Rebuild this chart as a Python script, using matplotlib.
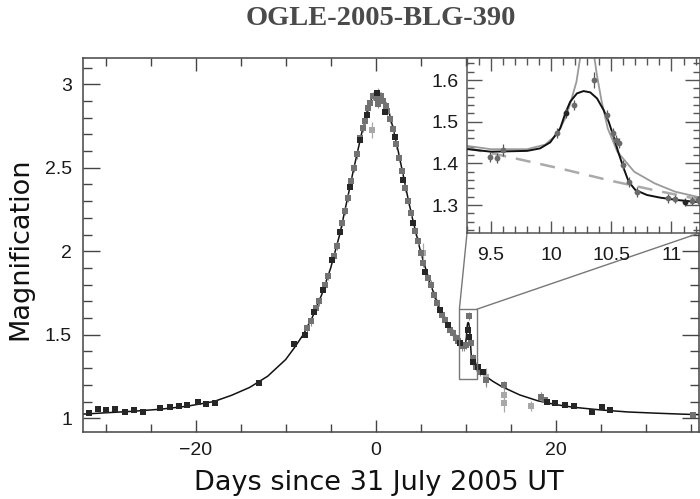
import matplotlib
matplotlib.use("Agg")
import matplotlib.pyplot as plt
from matplotlib.patches import Rectangle, ConnectionPatch
from matplotlib.ticker import FixedLocator, MultipleLocator, NullFormatter
import numpy as np

# ---------------- data ----------------
title = "OGLE-2005-BLG-390"
xlabel = "Days since 31 July 2005 UT"
ylabel = "Magnification"

# main model curve outside the zoomed window
model_t = [-32.5, -30, -27, -24, -21, -18, -16, -14, -12, -10, -9, -8, -7, -6, -5, -4,
           -3, -2.5, -2, -1.5, -1, -0.5, 0, 0.25, 0.5, 1, 1.5, 2, 2.5, 3, 3.5, 4, 5,
           6, 7, 8, 9, 11.6, 12, 13, 14, 16, 18, 20, 22, 25, 28, 31, 34, 35.92]
model_A = [1.025, 1.033, 1.042, 1.054, 1.072, 1.10, 1.138, 1.185, 1.252, 1.352, 1.425,
           1.505, 1.61, 1.74, 1.90, 2.10, 2.35, 2.48, 2.60, 2.72, 2.83, 2.91, 2.945,
           2.952, 2.945, 2.905, 2.83, 2.72, 2.60, 2.47, 2.34, 2.215, 1.995, 1.815,
           1.67, 1.555, 1.46, 1.28, 1.26, 1.222, 1.19, 1.14, 1.105, 1.082, 1.066,
           1.05, 1.038, 1.031, 1.025, 1.022]

# planetary model in the zoomed window
bump_t = [9.31, 9.5, 9.8, 9.908, 9.992, 10.075, 10.117, 10.158, 10.214, 10.269, 10.325,
          10.381, 10.436, 10.478, 10.519, 10.561, 10.603, 10.644, 10.70, 10.797, 10.908,
          11.05, 11.186, 11.3]
bump_A = [1.434, 1.428, 1.430, 1.436, 1.4505, 1.484, 1.520, 1.548, 1.568, 1.5736, 1.5704,
          1.556, 1.528, 1.500, 1.464, 1.424, 1.388, 1.356, 1.336, 1.324, 1.3176,
          1.312, 1.308, 1.305]

# alternative (grey) model, two branches leaving the top of the inset
alt_left_t = [9.3, 9.5, 9.8, 9.95, 10.05, 10.12, 10.16, 10.21, 10.24, 10.27]
alt_left_A = [1.442, 1.434, 1.434, 1.445, 1.47, 1.51, 1.545, 1.596, 1.652, 1.72]
alt_right_t = [10.35, 10.36, 10.38, 10.42, 10.47, 10.55, 10.69, 10.86, 11.03, 11.24]
alt_right_A = [1.72, 1.652, 1.612, 1.548, 1.484, 1.428, 1.38, 1.352, 1.332, 1.318]

# single-lens (no planet) model, dashed
single_t = [9.3, 9.7, 10.1, 10.5, 10.9, 11.24]
single_A = [1.437, 1.412, 1.386, 1.358, 1.333, 1.313]

# dark data points (main panel)
dark_t = [-31.9, -30.9, -30.0, -29.0, -27.9, -26.9, -25.9, -24.0, -22.9, -21.9, -21.0,
          -19.7, -18.8, -17.9, -13.0, -9.1, -7.9, -6.9, -5.8, -4.9, -3.97, -2.86,
          -1.74, -1.0, 0.1, 1.03, 2.14, 3.07, 4.18, 5.48, 7.14, 8.07, 9.36, 10.29,
          10.4, 10.85, 11.4, 11.96, 19.0, 19.9, 21.0, 22.0, 24.0, 25.1, 26.0]
dark_A = [1.030, 1.054, 1.050, 1.054, 1.040, 1.050, 1.040, 1.060, 1.070, 1.074, 1.080,
          1.099, 1.088, 1.094, 1.213, 1.447, 1.496, 1.638, 1.768, 1.948, 2.117, 2.387,
          2.666, 2.816, 2.946, 2.836, 2.686, 2.427, 2.168, 1.878, 1.648, 1.559, 1.449,
          1.529, 1.489, 1.339, 1.309, 1.279, 1.10, 1.09, 1.08, 1.074, 1.04, 1.066, 1.05]

# medium grey data points (main panel)
gray_t = [-7.6, -7.2, -6.6, -6.3, -5.6, -5.3, -4.6, -4.3, -3.7, -3.4, -3.1, -2.7, -2.4,
          -2.1, -1.7, -1.4, -1.2, -0.8, -0.6, -0.3, 0.1, 0.3, 0.6, 0.8, 1.1, 1.3, 1.6,
          1.9, 2.3, 2.6, 2.9, 3.3, 3.6, 3.9, 4.4, 4.7, 5.0, 5.3, 5.8, 6.1, 6.5, 6.8,
          7.4, 7.7, 8.3, 8.6, 8.9, 9.1, 9.6, 9.8, 10.0, 10.37, 10.6, 10.8, 11.1, 11.6,
          12.3, 14.2, 18.4, 18.8, 35.3]
gray_A = [1.54, 1.58, 1.66, 1.70, 1.80, 1.85, 1.97, 2.03, 2.17, 2.24, 2.32, 2.42, 2.50,
          2.58, 2.68, 2.74, 2.78, 2.86, 2.89, 2.93, 2.92, 2.88, 2.93, 2.90, 2.87, 2.84,
          2.79, 2.73, 2.64, 2.56, 2.48, 2.38, 2.30, 2.23, 2.12, 2.06, 1.99, 1.93, 1.84,
          1.80, 1.74, 1.69, 1.62, 1.59, 1.53, 1.51, 1.48, 1.465, 1.43, 1.43, 1.44,
          1.613, 1.45, 1.36, 1.31, 1.28, 1.23, 1.20, 1.13, 1.11, 1.02]
gray_err = [0.025] * 56 + [0.04, 0.025, 0.025, 0.02, 0.01]

# light grey data points (main panel)
light_t = [-0.45, 0.3, 5.3, 12.2, 14.2, 14.2, 17.3]
light_A = [2.726, 2.93, 1.99, 1.25, 1.14, 1.09, 1.074]
light_err = [0.05, 0.05, 0.06, 0.05, 0.05, 0.05, 0.03]

# data points inside the inset
ins_t = [9.49, 9.55, 9.60, 10.05, 10.12, 10.19, 10.36, 10.46, 10.51, 10.54, 10.56, 10.60,
         10.65, 10.71, 10.97, 11.03, 11.11, 11.17, 11.22]
ins_A = [1.416, 1.412, 1.432, 1.472, 1.52, 1.54, 1.60, 1.516, 1.472, 1.456, 1.448, 1.396,
         1.356, 1.332, 1.316, 1.314, 1.308, 1.31, 1.312]
ins_err = [0.012, 0.012, 0.014, 0.012, 0.012, 0.012, 0.02, 0.012, 0.012, 0.012, 0.012,
           0.012, 0.012, 0.012, 0.010, 0.010, 0.010, 0.010, 0.010]
ins_dark = [False, False, False, False, True, False, False, False, False, False, False,
            False, False, False, False, False, True, False, False]

main_xlim = (-32.52, 35.92)
main_ylim = (0.918, 3.157)
ins_xlim = (9.30, 11.233)
ins_ylim = (1.2328, 1.653)

# ---------------- figure ----------------
plt.rcParams['font.family'] = ['Liberation Sans', 'DejaVu Sans']
fig = plt.figure(figsize=(7.0, 4.99), dpi=100)
W, H = 700.0, 499.0
ax = fig.add_axes([83 / W, 1 - 432 / H, 616 / W, 374 / H])

spine_c = '#444444'
dark_c = '#262626'
mid_c = '#727272'
light_c = '#a8a8a8'

# main model line
main_t = [t for t in model_t if t < 9.3] + bump_t + [t for t in model_t if t > 11.3]
main_A = [a for t, a in zip(model_t, model_A) if t < 9.3] + bump_A + \
         [a for t, a in zip(model_t, model_A) if t > 11.3]
ax.plot(main_t, main_A, color='#111111', lw=1.1, zorder=2)

ax.errorbar(light_t, light_A, yerr=light_err, fmt='s', ms=4.5, color=light_c,
            ecolor=light_c, elinewidth=0.9, capsize=1.8, mew=0, zorder=3)
ax.errorbar(gray_t, gray_A, yerr=gray_err, fmt='s', ms=4.5, color=mid_c,
            ecolor='#8a8a8a', elinewidth=0.8, capsize=1.5, mew=0, zorder=3)
ax.errorbar(dark_t, dark_A, yerr=0.008, fmt='s', ms=4.5, color=dark_c,
            ecolor='#444444', elinewidth=0.8, capsize=1.2, mew=0, zorder=4)

ax.set_xlim(*main_xlim)
ax.set_ylim(*main_ylim)

ax.xaxis.set_major_locator(FixedLocator([-20, 0, 20]))
ax.xaxis.set_minor_locator(MultipleLocator(5))
ax.yaxis.set_major_locator(FixedLocator([1, 1.5, 2, 2.5, 3]))
ax.yaxis.set_minor_locator(MultipleLocator(0.1))
ax.set_yticklabels(['1', '1.5', '2', '2.5', '3'])
ax.tick_params(which='both', direction='in', top=True, right=True, color=spine_c,
               labelsize=14, labelcolor='#1a1a1a', width=1.0)
ax.tick_params(axis='x', which='major', length=9, pad=7)
ax.tick_params(axis='x', which='minor', length=5.5)
ax.tick_params(axis='y', which='major', length=12, pad=8)
ax.tick_params(axis='y', which='minor', length=6.5)
for s in ax.spines.values():
    s.set_color(spine_c)
    s.set_linewidth(1.1)

fig.text(20.5 / W, 1 - 248.5 / H, ylabel, rotation=90, ha='center', va='center',
         fontsize=19.5, family='DejaVu Sans', color='#111111')
fig.text(379 / W, 1 - 490 / H, xlabel, ha='center', va='baseline',
         fontsize=19.5, family='DejaVu Sans', color='#111111')
fig.text(381 / W, 1 - 25 / H, title, ha='center', va='baseline', fontsize=20.5,
         fontweight='bold', family=['Liberation Serif', 'DejaVu Serif'], color='#4a4a4a')

# zoom box
ax.add_patch(Rectangle((ins_xlim[0], ins_ylim[0]), ins_xlim[1] - ins_xlim[0],
                       ins_ylim[1] - ins_ylim[0], fill=False, ec='#777777', lw=1.0,
                       zorder=5))

# ---------------- inset ----------------
axi = fig.add_axes([467 / W, 1 - 233 / H, 232.5 / W, 175 / H], zorder=10)
axi.set_facecolor('white')
axi.plot(single_t, single_A, color='#aaaaaa', lw=1.8, ls=(0, (6, 4)), zorder=2)
axi.plot(alt_left_t, alt_left_A, color='#9a9a9a', lw=1.3, zorder=2)
axi.plot(alt_right_t, alt_right_A, color='#9a9a9a', lw=1.3, zorder=2)
axi.plot(bump_t, bump_A, color='#111111', lw=1.4, zorder=3)
for t, a, e, d in zip(ins_t, ins_A, ins_err, ins_dark):
    c = dark_c if d else '#6a6a6a'
    axi.errorbar([t], [a], yerr=[e], fmt='o', ms=4.2, color=c, ecolor='#555555',
                 elinewidth=0.9, capsize=2.2, mew=0, zorder=4)
axi.set_xlim(*ins_xlim)
axi.set_ylim(*ins_ylim)
axi.xaxis.set_major_locator(MultipleLocator(0.5))
axi.xaxis.set_minor_locator(MultipleLocator(0.1))
axi.yaxis.set_major_locator(MultipleLocator(0.1))
axi.yaxis.set_minor_locator(MultipleLocator(0.02))
axi.set_xticks([9.5, 10, 10.5, 11])
axi.set_xticklabels(['9.5', '10', '10.5', '11'])
axi.set_yticks([1.3, 1.4, 1.5, 1.6])
axi.set_yticklabels(['1.3', '1.4', '1.5', '1.6'])
axi.tick_params(which='both', direction='in', top=True, right=True, color='#555555',
                labelsize=14, labelcolor='#1a1a1a', width=1.0)
axi.tick_params(axis='x', which='major', length=9, pad=10)
axi.tick_params(axis='x', which='minor', length=5)
axi.tick_params(axis='y', which='major', length=11, pad=6)
axi.tick_params(axis='y', which='minor', length=5)
for s in axi.spines.values():
    s.set_color('#555555')
    s.set_linewidth(1.1)

# connector lines
for xa, xb in [(ins_xlim[0], 0.0), (ins_xlim[1], 1.0)]:
    con = ConnectionPatch(xyA=(xa, ins_ylim[1]), coordsA=ax.transData,
                          xyB=(xb, 0.0), coordsB=axi.transAxes,
                          color='#777777', lw=1.0, zorder=6)
    fig.add_artist(con)

fig.savefig('out.png', dpi=100)
